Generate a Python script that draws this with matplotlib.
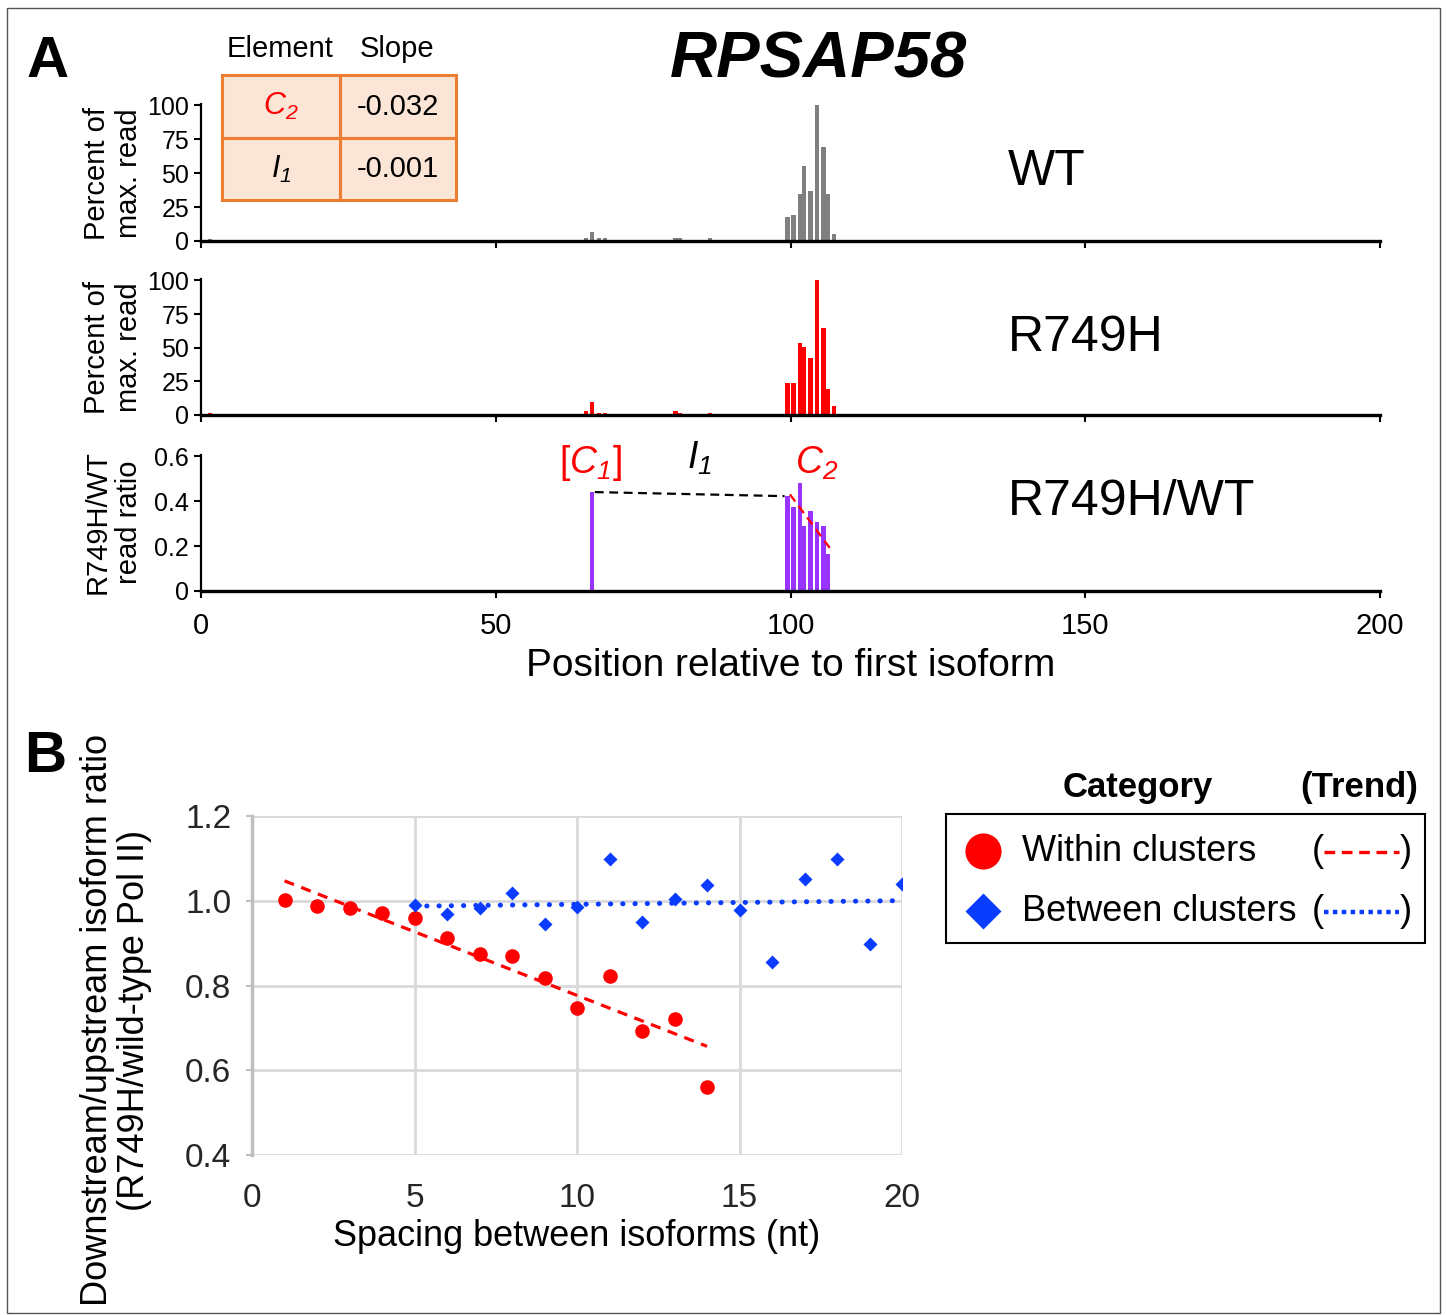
import numpy as np
import matplotlib
matplotlib.use('Agg')
import matplotlib.pyplot as plt
from matplotlib.patches import Rectangle

plt.rcParams['font.family'] = ['Liberation Sans', 'DejaVu Sans']
plt.rcParams['mathtext.fontset'] = 'custom'
plt.rcParams['mathtext.rm'] = 'Liberation Sans:italic'
plt.rcParams['mathtext.it'] = 'Liberation Sans:italic'
plt.rcParams['mathtext.bf'] = 'Liberation Sans:bold'

# ---------------- data ----------------
pos = [1.5, 65.3, 66.4, 67.5, 68.5, 80.5, 81.3, 86.3,
       99.5, 100.5, 101.6, 102.3, 103.4, 104.5, 105.6, 106.3, 107.4]
wt_pct = [1.5, 2, 6.4, 2, 2, 2, 2, 2,
          17.4, 19.1, 34.6, 55, 36.5, 100, 69, 34.6, 4.9]
mut_pct = [1.5, 3.2, 9.6, 1.7, 1.7, 3.2, 1.7, 1.7,
           23.8, 23.8, 53.8, 50.6, 42.7, 100, 64.8, 19.2, 6.6]
ratio_pos = [66.4, 99.5, 100.5, 101.6, 102.3, 103.4, 104.5, 105.6, 106.3]
ratio_val = [0.44, 0.422, 0.375, 0.479, 0.289, 0.356, 0.308, 0.289, 0.166]
i1_line_x = [66.8, 99.0]
i1_line_y = [0.44, 0.422]
c2_line_x = [99.9, 106.7]
c2_line_y = [0.43, 0.19]
x_ticks_a = [0, 50, 100, 150, 200]
pct_ticks = [0, 25, 50, 75, 100]
ratio_ticks = [0, 0.2, 0.4, 0.6]
ratio_ticklabels = ['0', '0.2', '0.4', '0.6']

table_elements = [r'$C_2$', r'$I_1$']
table_slopes = ['-0.032', '-0.001']

within_x = list(range(1, 15))
within_y = [1.002, 0.988, 0.984, 0.970, 0.960, 0.913, 0.874, 0.870,
            0.818, 0.746, 0.823, 0.693, 0.722, 0.561]
between_x = list(range(5, 21))
between_y = [0.990, 0.969, 0.984, 1.018, 0.945, 0.986, 1.098, 0.950,
             1.003, 1.036, 0.978, 0.855, 1.051, 1.099, 0.898, 1.040]
b_xticks = [0, 5, 10, 15, 20]
b_yticks = [0.4, 0.6, 0.8, 1.0, 1.2]
b_yticklabels = ['0.4', '0.6', '0.8', '1.0', '1.2']

W, H = 1447, 1315
fig = plt.figure(figsize=(W / 100, H / 100), dpi=100)


def box(l, t, r, b):
    return [l / W, 1 - b / H, (r - l) / W, (b - t) / H]


GREY = '#808080'
RED = '#FF0000'
PURPLE = '#9933FF'
BLUE = '#0A3CFF'

panel_specs = [
    (box(201, 104, 1380, 241), wt_pct, GREY, 173),
    (box(201, 279, 1380, 415), mut_pct, RED, 347),
]


def style_a(ax):
    for s in ['top', 'right']:
        ax.spines[s].set_visible(False)
    ax.spines['bottom'].set_linewidth(2.4)
    ax.spines['left'].set_linewidth(1.6)
    ax.tick_params(axis='both', direction='out', length=5, width=1.5,
                   labelsize=18)
    ax.set_xlim(0, 200)
    ax.set_xticks(x_ticks_a)


for rect, vals, col, ymid in panel_specs:
    ax = fig.add_axes(rect)
    ax.bar(pos, vals, width=0.7, color=col, linewidth=0)
    style_a(ax)
    ax.set_ylim(0, 101)
    ax.set_yticks(pct_ticks)
    ax.set_xticklabels([])
    fig.text(113 / W, 1 - ymid / H, 'Percent of\nmax. read', fontsize=21,
             rotation=90, ha='center', va='center', linespacing=1.15)

axr = fig.add_axes(box(201, 455, 1380, 591))
axr.bar(ratio_pos, ratio_val, width=0.7, color=PURPLE, linewidth=0)
axr.plot(i1_line_x, i1_line_y, color='black', lw=1.6, ls=(0, (4, 2.5)))
axr.plot(c2_line_x, c2_line_y, color=RED, lw=1.6, ls=(0, (4, 2.5)))
style_a(axr)
axr.set_ylim(0, 0.605)
axr.set_yticks(ratio_ticks)
axr.set_yticklabels(ratio_ticklabels)
axr.tick_params(axis='x', labelsize=21, pad=10)
fig.text(113 / W, 1 - 522 / H, 'R749H/WT\nread ratio', fontsize=21,
         rotation=90, ha='center', va='center', linespacing=1.15)
axr.text(66.0, 0.57, '[' + r'$C_1$' + ']', color=RED, fontsize=27,
         ha='center', va='center')
axr.text(84.5, 0.59, r'$I_1$', color='black', fontsize=27,
         ha='center', va='center')
axr.text(104.5, 0.57, r'$C_2$', color=RED, fontsize=27,
         ha='center', va='center')
axr.set_xlabel('Position relative to first isoform', fontsize=28,
               labelpad=6)

# ---------- panel B ----------
axb = fig.add_axes(box(252, 816, 902, 1155))
axb.plot(within_x, within_y, 'o', color=RED, ms=10.5, mec='none', zorder=3)
axb.plot(between_x, between_y, 'D', color=BLUE, ms=7, mec='none', zorder=3)
cw = np.polyfit(within_x, within_y, 1)
cb = np.polyfit(between_x, between_y, 1)
xw = np.array([within_x[0], within_x[-1]])
xb = np.array([between_x[0], between_x[-1]])
axb.plot(xw, np.polyval(cw, xw), color=RED, lw=2.3, ls=(0, (3.2, 2.4)),
         zorder=4)
axb.plot(xb, np.polyval(cb, xb), color=BLUE, lw=3.6,
         ls=(0, (0.05, 2.4)), dash_capstyle='round', zorder=4)
axb.set_xlim(0, 20)
axb.set_ylim(0.4, 1.2)
axb.set_xticks(b_xticks)
axb.set_yticks(b_yticks)
axb.set_yticklabels(b_yticklabels)
axb.grid(True, color='#d9d9d9', lw=2)
axb.set_axisbelow(True)
for s in ['top', 'right', 'bottom']:
    axb.spines[s].set_visible(False)
axb.spines['left'].set_color('#bfbfbf')
axb.spines['left'].set_linewidth(2.5)
axb.tick_params(axis='both', length=4, width=1.5, color='#bfbfbf',
                labelsize=24, labelcolor='#262626', pad=11)
axb.tick_params(axis='x', length=0, pad=20)
axb.set_xlabel('Spacing between isoforms (nt)', fontsize=26, labelpad=4)
fig.text(116 / W, 1 - 1020 / H,
         'Downstream/upstream isoform ratio\n(R749H/wild-type Pol II)',
         fontsize=26, rotation=90, ha='center', va='center',
         linespacing=1.1)

# ---------- overlay (labels, table, legend, border) ----------
ov = fig.add_axes([0, 0, 1, 1], zorder=10)
ov.set_xlim(0, W)
ov.set_ylim(H, 0)
ov.axis('off')
ov.patch.set_alpha(0)

ov.text(48, 62, 'A', fontsize=42, fontweight='bold', ha='center',
        va='center')
ov.text(45, 757, 'B', fontsize=42, fontweight='bold', ha='center',
        va='center')
ov.text(818, 60, 'RPSAP58', fontsize=47, fontweight='bold',
        fontstyle='italic', ha='center', va='center')
ov.text(1008, 172, 'WT', fontsize=36, ha='left', va='center')
ov.text(1008, 338, 'R749H', fontsize=36, ha='left', va='center')
ov.text(1008, 502, 'R749H/WT', fontsize=36, ha='left', va='center')

# table
ov.text(280, 49, 'Element', fontsize=21, ha='center', va='center')
ov.text(397, 49, 'Slope', fontsize=21, ha='center', va='center')
col_x = [222, 340, 456]
row_y = [75, 138, 200]
for i in range(2):
    for j in range(2):
        ov.add_patch(Rectangle((col_x[j], row_y[i]),
                               col_x[j + 1] - col_x[j],
                               row_y[i + 1] - row_y[i],
                               facecolor='#FBE5D6', edgecolor='#ED7D31',
                               lw=2.2))
    cy = (row_y[i] + row_y[i + 1]) / 2
    ov.text((col_x[0] + col_x[1]) / 2, cy, table_elements[i], fontsize=22,
            ha='center', va='center', color=RED if i == 0 else 'black')
    ov.text((col_x[1] + col_x[2]) / 2, cy, table_slopes[i], fontsize=21,
            ha='center', va='center')

# legend
ov.text(1138, 787, 'Category', fontsize=25, fontweight='bold', ha='center',
        va='center')
ov.text(1359, 787, '(Trend)', fontsize=25, fontweight='bold', ha='center',
        va='center')
ov.add_patch(Rectangle((946, 814), 479, 129, facecolor='white',
                       edgecolor='black', lw=1.5))
ov.plot([983], [851], 'o', color=RED, ms=26, mec='none')
ov.plot([983], [911], 'D', color=BLUE, ms=18, mec='none')
ov.text(1022, 851, 'Within clusters', fontsize=26, ha='left', va='center')
ov.text(1022, 911, 'Between clusters', fontsize=26, ha='left',
        va='center')
for yy, col, ls, lw in [(851, RED, (0, (3.2, 2.0)), 2.4),
                        (911, BLUE, (0, (1.0, 1.0)), 3.2)]:
    ov.text(1318, yy, '(', fontsize=26, ha='center', va='center')
    ov.text(1406, yy, ')', fontsize=26, ha='center', va='center')
    ov.plot([1324, 1399], [yy + 1, yy + 1], color=col, lw=lw, ls=ls)

ov.add_patch(Rectangle((7, 8), 1433, 1305, facecolor='none',
                       edgecolor='#555555', lw=1))

fig.savefig('out.png', dpi=100)
